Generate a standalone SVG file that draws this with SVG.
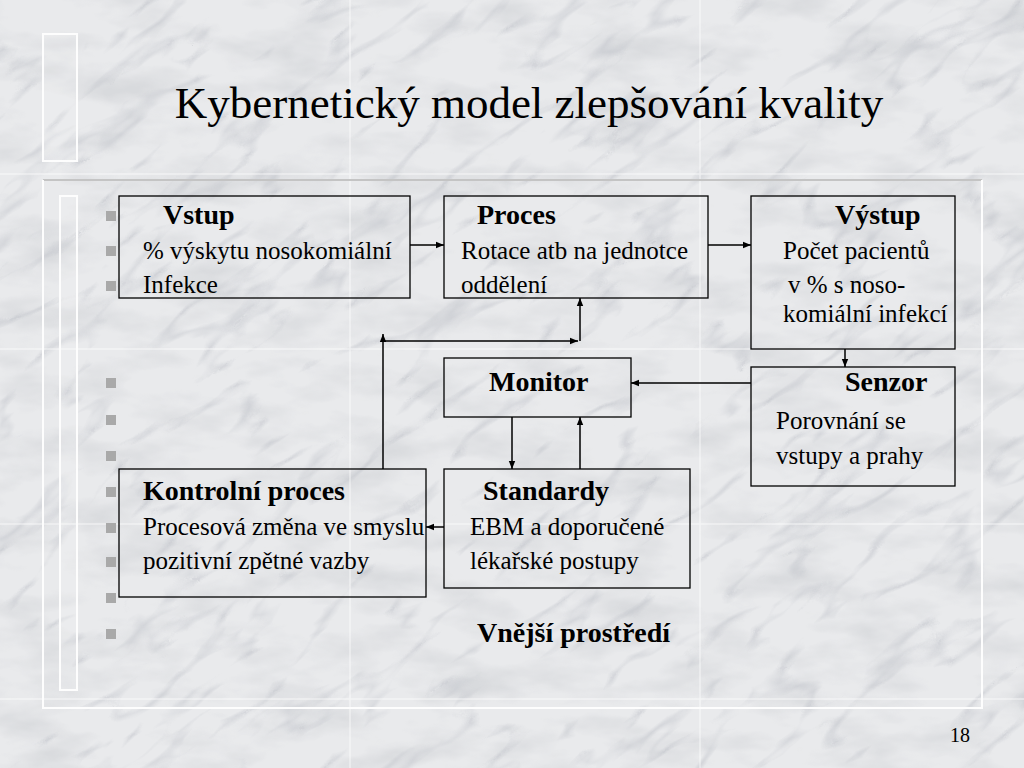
<svg xmlns="http://www.w3.org/2000/svg" width="1024" height="768" viewBox="0 0 1024 768">
<style>
.t{font-family:"Liberation Serif","Times New Roman",serif;fill:#000}
.r{font-size:25px}
.b{font-size:28px;font-weight:bold}
.box{fill:none;stroke:#000;stroke-width:1.3}
.ln{fill:none;stroke:#000;stroke-width:1.5}
.bul{fill:#a9a9a9}
.panel{fill:#ffffff;fill-opacity:0.12;stroke:#fdfdfd;stroke-width:2}
.seam{stroke:#ffffff;stroke-width:1.5;opacity:0.5}
</style>
<defs>
<marker id="ah" viewBox="0 0 10 10" refX="10" refY="5" markerWidth="8" markerHeight="8" markerUnits="userSpaceOnUse" orient="auto">
<path d="M0,1 L10,5 L0,9 z" fill="#000"/>
</marker>
<filter id="marble" x="0" y="0" width="100%" height="100%">
<feTurbulence type="fractalNoise" baseFrequency="0.012 0.03" numOctaves="4" seed="7" result="n"/>
<feColorMatrix type="matrix" values="0 0 0 0 0.45  0 0 0 0 0.47  0 0 0 0 0.5  0 0 -2.2 0 1.25" in="n"/>
</filter>
<filter id="veins" x="0" y="0" width="100%" height="100%">
<feTurbulence type="turbulence" baseFrequency="0.007 0.022" numOctaves="3" seed="3"/>
<feColorMatrix type="matrix" values="0 0 0 0 0.45  0 0 0 0 0.47  0 0 0 0 0.52  -6 0 0 0 1.1"/>
</filter>
</defs>
<g id="background">
<rect x="0" y="0" width="1024" height="768" fill="#e9eaec"/>
<rect x="0" y="0" width="1024" height="768" filter="url(#marble)" opacity="0.3"/>
<g transform="rotate(-35 512 384)">
<rect x="-400" y="-400" width="1824" height="1568" filter="url(#veins)" opacity="0.35"/>
</g>
<path class="seam" d="M350,0 V768 M700,0 V768 M0,174 H1024 M0,349 H1024 M0,524 H1024 M0,699 H1024"/>
<rect x="43" y="34" width="34" height="127" class="panel"/>
<path d="M43,180 L982,180" stroke="#c4c4c4" stroke-width="2"/>
<path d="M43,180 L43,708 L982,708 L982,180" fill="none" stroke="#fdfdfd" stroke-width="2"/>
<rect x="60" y="196" width="17" height="494" class="panel"/>
</g>
<text id="title" class="t" x="529" y="118" font-size="45" text-anchor="middle">Kybernetický model zlepšování kvality</text>
<g id="bullets">
<rect class="bul" x="106" y="211" width="10" height="10"/>
<rect class="bul" x="106" y="246" width="10" height="10"/>
<rect class="bul" x="106" y="281" width="10" height="10"/>
<rect class="bul" x="106" y="378" width="10" height="10"/>
<rect class="bul" x="106" y="415" width="10" height="10"/>
<rect class="bul" x="106" y="451" width="10" height="10"/>
<rect class="bul" x="106" y="487" width="10" height="10"/>
<rect class="bul" x="106" y="523" width="10" height="10"/>
<rect class="bul" x="106" y="557" width="10" height="10"/>
<rect class="bul" x="106" y="593" width="10" height="10"/>
<rect class="bul" x="106" y="629" width="10" height="10"/>
</g>
<g id="connectors">
<path class="ln" d="M410,245 L444,245" marker-end="url(#ah)"/>
<path class="ln" d="M708,245 L751,245" marker-end="url(#ah)"/>
<path class="ln" d="M845,349 L845,367" marker-end="url(#ah)"/>
<path class="ln" d="M751,383 L631,383" marker-end="url(#ah)"/>
<path class="ln" d="M512,417 L512,469" marker-end="url(#ah)"/>
<path class="ln" d="M580,469 L580,417" marker-end="url(#ah)"/>
<path class="ln" d="M444,527 L426,527" marker-end="url(#ah)"/>
<path class="ln" d="M383,469 L383,334" marker-end="url(#ah)"/>
<path class="ln" d="M383,341 L578,341" marker-end="url(#ah)"/>
<path class="ln" d="M580,341 L580,298" marker-end="url(#ah)"/>
</g>
<g id="vstup">
<rect class="box" x="119" y="196" width="291" height="102"/>
<text class="t b" x="163" y="224">Vstup</text>
<text class="t r" x="143" y="259">% výskytu nosokomiální</text>
<text class="t r" x="143" y="293">Infekce</text>
</g>
<g id="proces">
<rect class="box" x="444" y="196" width="264" height="102"/>
<text class="t b" x="477" y="224">Proces</text>
<text class="t r" x="461" y="259">Rotace atb na jednotce</text>
<text class="t r" x="461" y="293">oddělení</text>
</g>
<g id="vystup">
<rect class="box" x="751" y="196" width="204" height="153"/>
<text class="t b" x="835" y="224">Výstup</text>
<text class="t r" x="783" y="259">Počet pacientů</text>
<text class="t r" x="788" y="293">v % s noso-</text>
<text class="t r" x="783" y="322">komiální infekcí</text>
</g>
<g id="monitor">
<rect class="box" x="444" y="358" width="187" height="59"/>
<text class="t b" x="489" y="391">Monitor</text>
</g>
<g id="senzor">
<rect class="box" x="751" y="367" width="204" height="119"/>
<text class="t b" x="845" y="391">Senzor</text>
<text class="t r" x="776" y="429">Porovnání se</text>
<text class="t r" x="776" y="464">vstupy a prahy</text>
</g>
<g id="kontrolni">
<rect class="box" x="119" y="469" width="307" height="128"/>
<text class="t b" x="143" y="500">Kontrolní proces</text>
<text class="t r" x="143" y="535">Procesová změna ve smyslu</text>
<text class="t r" x="143" y="569">pozitivní zpětné vazby</text>
</g>
<g id="standardy">
<rect class="box" x="444" y="469" width="246" height="119"/>
<text class="t b" x="483" y="500">Standardy</text>
<text class="t r" x="470" y="535">EBM a doporučené</text>
<text class="t r" x="470" y="569">lékařské postupy</text>
</g>
<text id="vnejsi" class="t b" x="477" y="642">Vnější prostředí</text>
<text id="pagenum" class="t" x="950" y="742" font-size="20">18</text>
</svg>
